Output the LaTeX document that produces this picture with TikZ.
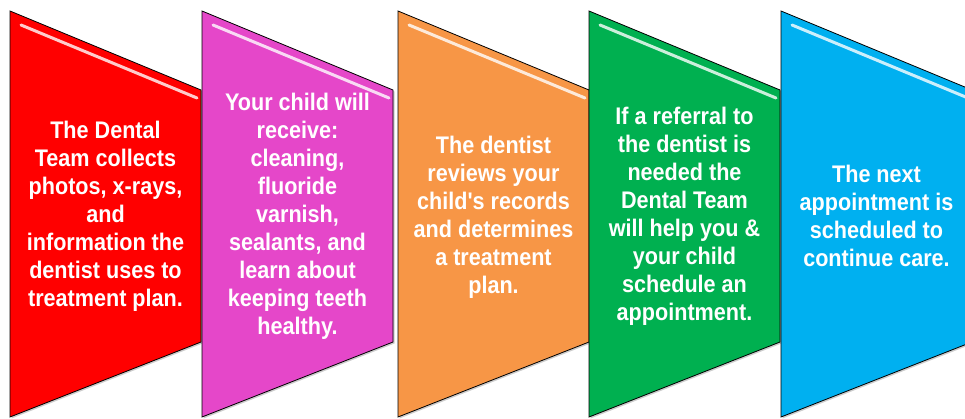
\documentclass[tikz,border=0pt]{standalone}
\usepackage{fontspec}
\setmainfont[FakeStretch=0.9, Ligatures=TeXOff]{Liberation Sans}
\usetikzlibrary{shadows}
\definecolor{stepred}{HTML}{FF0000}
\definecolor{steppink}{HTML}{E547C9}
\definecolor{steporange}{HTML}{F79646}
\definecolor{stepgreen}{HTML}{00B050}
\definecolor{stepblue}{HTML}{00B0F0}
\begin{document}
\begin{tikzpicture}[x=1pt,y=-1pt,
    panel/.style={draw=black, line width=0.8pt,
      drop shadow={shadow xshift=1.5pt, shadow yshift=-1.5pt, opacity=0.4}},
    gloss/.style={white, line width=3pt, line cap=round, opacity=0.8},
    steptext/.style={text=white, align=center,
      font=\bfseries\fontsize{24}{28}\selectfont}]
      \path[use as bounding box, clip] (0,0) rectangle (965,419);
      % step 1
      \filldraw[panel, fill=stepred] (10,11) -- (201,90) -- (201,342) -- (10,417) -- cycle;
      \draw[gloss] (21,25) -- (197,98);
      \node[steptext] (t1) at (105.5,216) {The Dental\\Team collects\\photos, x-rays,\\and\\information the\\dentist uses to\\treatment plan.};
      % step 2
      \filldraw[panel, fill=steppink] (202,11) -- (393,90) -- (393,342) -- (202,417) -- cycle;
      \draw[gloss] (213,25) -- (389,98);
      \node[steptext] (t2) at (297.5,216) {Your child will\\receive:\\cleaning,\\fluoride\\varnish,\\sealants, and\\learn about\\keeping teeth\\healthy.};
      % step 3
      \filldraw[panel, fill=steporange] (398,11) -- (589,90) -- (589,342) -- (398,417) -- cycle;
      \draw[gloss] (409,25) -- (585,98);
      \node[steptext] (t3) at (493.5,217) {The dentist\\reviews your\\child's records\\and determines\\a treatment\\plan.};
      % step 4
      \filldraw[panel, fill=stepgreen] (589,11) -- (780,90) -- (780,342) -- (589,417) -- cycle;
      \draw[gloss] (600,25) -- (776,98);
      \node[steptext] (t4) at (684.5,216) {If a referral to\\the dentist is\\needed the\\Dental Team\\will help you \&\\your child\\schedule an\\appointment.};
      % step 5
      \filldraw[panel, fill=stepblue] (781,11) -- (972,90) -- (972,342) -- (781,417) -- cycle;
      \draw[gloss] (792,25) -- (968,98);
      \node[steptext] (t5) at (876.5,216) {The next\\appointment is\\scheduled to\\continue care.};
\end{tikzpicture}
\end{document}
